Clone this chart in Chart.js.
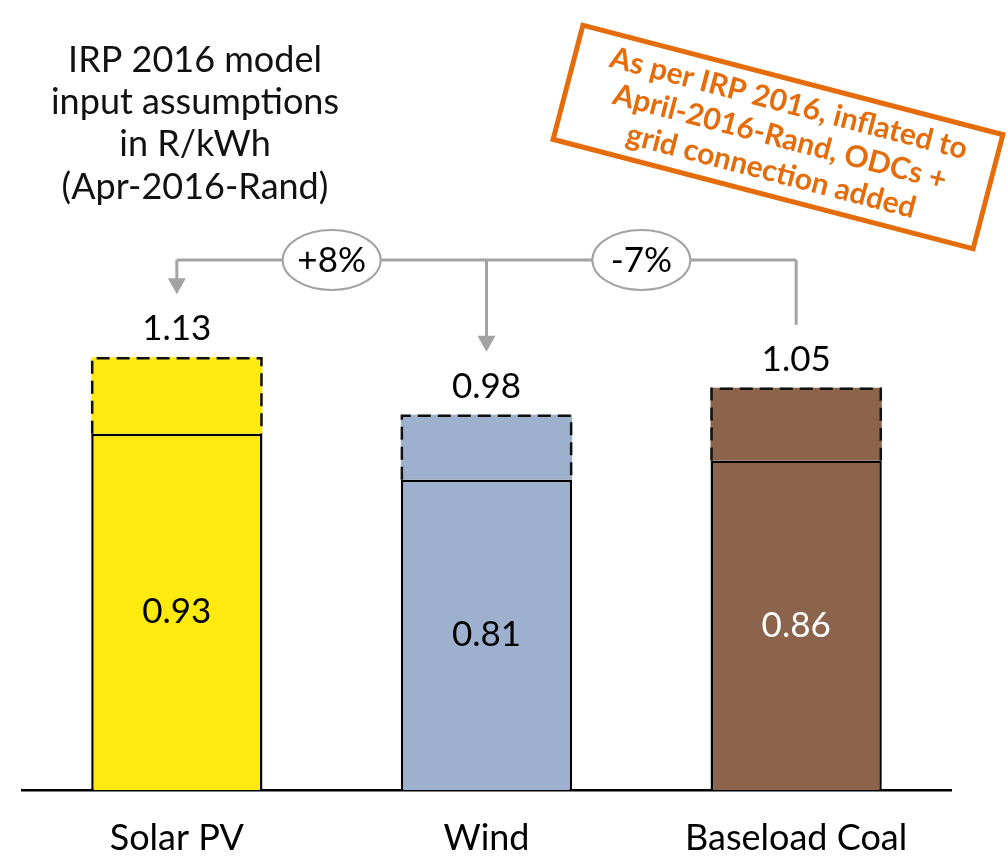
<!DOCTYPE html>
<html>
<head>
<meta charset="utf-8">
<script src="https://cdn.jsdelivr.net/npm/chart.js@4.4.1/dist/chart.umd.min.js"></script>
<style>
  html, body { margin: 0; padding: 0; background: #fff; }
</style>
</head>
<body>
<canvas id="chart" width="1008" height="856"></canvas>
<script>
const categories = ['Solar PV', 'Wind', 'Baseload Coal'];
const baseValues = [0.93, 0.81, 0.86];   // IRP 2016 model input
const totalValues = [1.13, 0.98, 1.05];  // inflated + ODCs + grid connection
const barColors = ['#FFEA10', '#9DB1CE', '#8C634B'];
const innerLabelColors = ['#000', '#000', '#fff'];
const changeLabels = ['+8%', '-7%'];
const titleLines = ['IRP 2016 model', 'input assumptions', 'in R/kWh', '(Apr-2016-Rand)'];
const noteLines = ['As per IRP 2016, inflated to', 'April-2016-Rand, ODCs +', 'grid connection added'];

const FONT = 'Lato, "Open Sans", sans-serif';
const GREY = '#A3A3A3';
const ORANGE = '#E46C0A';

const decorations = {
  id: 'decorations',
  afterDatasetsDraw(chart) {
    const ctx = chart.ctx;
    const baseMeta = chart.getDatasetMeta(0);
    const topMeta = chart.getDatasetMeta(1);
    ctx.save();

    // dashed outline on the added part
    ctx.setLineDash([13, 7]);
    ctx.lineWidth = 2.5;
    ctx.strokeStyle = '#111';
    topMeta.data.forEach(bar => {
      const p = bar.getProps(['x', 'y', 'base', 'width'], true);
      const l = p.x - p.width / 2 + 1, r = p.x + p.width / 2 - 1;
      ctx.beginPath();
      ctx.moveTo(l, p.base);
      ctx.lineTo(l, p.y + 1);
      ctx.lineTo(r, p.y + 1);
      ctx.lineTo(r, p.base);
      ctx.stroke();
    });
    ctx.setLineDash([]);

    // value labels
    ctx.textAlign = 'center';
    ctx.textBaseline = 'middle';
    ctx.font = '35px ' + FONT;
    topMeta.data.forEach((bar, i) => {
      const p = bar.getProps(['x', 'y'], true);
      ctx.fillStyle = '#000';
      ctx.fillText(totalValues[i].toFixed(2), p.x, p.y - 28);
    });
    baseMeta.data.forEach((bar, i) => {
      const p = bar.getProps(['x', 'y', 'base'], true);
      ctx.fillStyle = innerLabelColors[i];
      ctx.fillText(baseValues[i].toFixed(2), p.x, (p.y + p.base) / 2);
    });

    // connectors between bars
    const lineY = 260;
    const ends = topMeta.data.map(bar => bar.getProps(['x', 'y'], true));
    ctx.strokeStyle = GREY;
    ctx.fillStyle = GREY;
    ctx.lineWidth = 3;
    ctx.beginPath();
    ctx.moveTo(ends[0].x, lineY);
    ctx.lineTo(ends[2].x, lineY);
    ctx.moveTo(ends[0].x, lineY);
    ctx.lineTo(ends[0].x, ends[0].y - 75);
    ctx.moveTo(ends[1].x, lineY);
    ctx.lineTo(ends[1].x, ends[1].y - 75);
    ctx.moveTo(ends[2].x, lineY);
    ctx.lineTo(ends[2].x, ends[2].y - 63);
    ctx.stroke();
    [ends[0], ends[1]].forEach(e => {
      const tip = e.y - 63;
      ctx.beginPath();
      ctx.moveTo(e.x - 9, tip - 16);
      ctx.lineTo(e.x + 9, tip - 16);
      ctx.lineTo(e.x, tip);
      ctx.closePath();
      ctx.fill();
    });

    // change bubbles
    ctx.font = '35px ' + FONT;
    changeLabels.forEach((t, i) => {
      const cx = (ends[i].x + ends[i + 1].x) / 2;
      ctx.beginPath();
      ctx.ellipse(cx, lineY, 49, 30, 0, 0, Math.PI * 2);
      ctx.fillStyle = '#fff';
      ctx.fill();
      ctx.lineWidth = 2;
      ctx.strokeStyle = GREY;
      ctx.stroke();
      ctx.fillStyle = '#000';
      ctx.fillText(t, cx, lineY + 1);
    });

    // title block
    ctx.fillStyle = '#111';
    ctx.font = '36px ' + FONT;
    titleLines.forEach((t, i) => ctx.fillText(t, 195, 60 + i * 42.3));

    // rotated note
    ctx.translate(778, 137);
    ctx.rotate(14.6 * Math.PI / 180);
    ctx.lineWidth = 5;
    ctx.strokeStyle = ORANGE;
    ctx.strokeRect(-217, -59, 434, 118);
    ctx.fillStyle = ORANGE;
    ctx.font = 'bold 30px ' + FONT;
    noteLines.forEach((t, i) => ctx.fillText(t, 2, -35 + i * 35));

    ctx.restore();
  }
};

new Chart(document.getElementById('chart'), {
  type: 'bar',
  data: {
    labels: categories,
    datasets: [{
      label: 'IRP 2016',
      data: baseValues,
      backgroundColor: barColors,
      borderColor: '#000',
      borderWidth: 2.5,
      borderSkipped: 'bottom'
    }, {
      label: 'Added',
      data: totalValues.map((v, i) => v - baseValues[i]),
      backgroundColor: barColors,
      borderWidth: 0
    }]
  },
  options: {
    responsive: false,
    animation: false,
    devicePixelRatio: 1,
    categoryPercentage: 1,
    barPercentage: 0.553,
    layout: { padding: { left: 22, right: 57, top: 24, bottom: 1 } },
    plugins: {
      legend: { display: false },
      tooltip: { enabled: false }
    },
    scales: {
      x: {
        stacked: true,
        grid: { display: false, drawTicks: false },
        border: { display: true, color: '#000', width: 2.5 },
        ticks: { color: '#000', padding: 27, maxRotation: 0, font: { family: FONT, size: 36 } },
        afterFit(scale) { scale.height = 65; }
      },
      y: {
        stacked: true,
        display: false,
        min: 0,
        max: 2
      }
    }
  },
  plugins: [decorations]
});
</script>
</body>
</html>
